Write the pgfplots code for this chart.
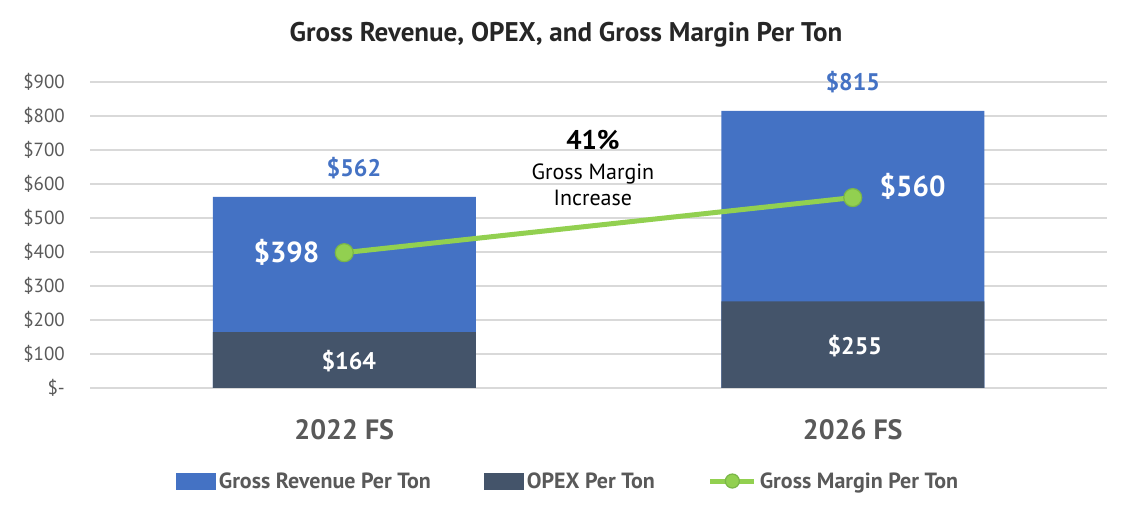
\documentclass[border=0pt]{standalone}
\usepackage{pgfplots}
\pgfplotsset{compat=1.18}
\usepackage{fontspec}
\setmainfont{PT Sans}
\definecolor{revblue}{HTML}{4472C4}
\definecolor{opex}{HTML}{44546A}
\definecolor{gmgreen}{HTML}{92D050}
\definecolor{gmborder}{HTML}{7AB648}
\definecolor{tickgray}{HTML}{595959}
\definecolor{gridgray}{HTML}{D9D9D9}
\definecolor{titlec}{HTML}{262626}
\begin{document}
\begin{tikzpicture}
\path[use as bounding box] (0,0) rectangle (1130pt,519pt);
\node[font=\bfseries\fontsize{27}{30}\selectfont, text=titlec] at (566pt,484pt) {Gross Revenue, OPEX, and Gross Margin Per Ton};
\begin{axis}[
  at={(90pt,131pt)}, anchor=south west,
  scale only axis, width=1017pt, height=306pt,
  xmin=-0.5, xmax=1.5, ymin=0, ymax=900,
  ybar, bar width=263pt, bar shift=0pt,
  axis line style={draw=none},
  major tick length=0pt,
  ytick={0,100,200,300,400,500,600,700,800,900},
  yticklabels={\$-\hspace{5pt},\$100,\$200,\$300,\$400,\$500,\$600,\$700,\$800,\$900},
  xtick={0,1}, xticklabels={2022 FS,2026 FS},
  ymajorgrids, grid style={gridgray, line width=1.5pt},
  yticklabel style={font=\fontsize{19}{19}\selectfont, text=tickgray, inner sep=0pt, xshift=-25pt},
  xticklabel style={font=\bfseries\fontsize{28}{28}\selectfont, text=tickgray, anchor=base, inner sep=0pt, yshift=-52pt},
  /pgf/number format/assume math mode=true,
  clip=false,
  legend cell align=left,
  legend style={at={(0.4705,-0.304)}, anchor=center, draw=none, fill=none,
    legend columns=3, font=\bfseries\fontsize{22}{22}\selectfont,
    /tikz/every even column/.append style={column sep=50pt},
    nodes={inner xsep=3pt, inner ysep=2pt, text=tickgray}},
]
\addplot[fill=revblue, draw=none,
  legend image code/.code={\fill[revblue] (0pt,-8.5pt) rectangle (40pt,8.5pt);}]
  coordinates {(0,562) (1,815)};
\addlegendentry{Gross Revenue Per Ton}
\addplot[fill=opex, draw=none,
  legend image code/.code={\fill[opex] (0pt,-8.5pt) rectangle (40pt,8.5pt);}]
  coordinates {(0,164) (1,255)};
\addlegendentry{OPEX Per Ton}
\addplot[sharp plot, gmgreen, line width=5pt, mark=*, mark size=9pt,
  mark options={fill=gmgreen, draw=gmborder, line width=1.2pt},
  legend image code/.code={\draw[gmgreen, line width=5pt] (0pt,0pt) -- (44pt,0pt);
    \filldraw[fill=gmgreen, draw=gmborder, line width=1.2pt] (22pt,0pt) circle (7pt);}]
  coordinates {(0,398) (1,560)};
\addlegendentry{Gross Margin Per Ton}
\node[text=revblue, font=\bfseries\fontsize{24}{24}\selectfont] at (axis cs:0.019,647) {\$562};
\node[text=revblue, font=\bfseries\fontsize{24}{24}\selectfont] at (axis cs:1.0,900) {\$815};
\node[text=white, font=\bfseries\fontsize{29}{29}\selectfont, anchor=east] at (axis cs:-0.042,398) {\$398};
\node[text=white, font=\bfseries\fontsize{29}{29}\selectfont, anchor=west] at (axis cs:1.046,592) {\$560};
\node[text=white, font=\bfseries\fontsize{24}{24}\selectfont] at (axis cs:0.009,78) {\$164};
\node[text=white, font=\bfseries\fontsize{24}{24}\selectfont] at (axis cs:1.004,122) {\$255};
\node[text=black, font=\bfseries\fontsize{27}{27}\selectfont] at (axis cs:0.489,729) {41\%};
\node[text=black, font=\fontsize{22}{26}\selectfont, align=center] at (axis cs:0.489,597) {Gross Margin\\Increase};
\end{axis}
\end{tikzpicture}
\end{document}
